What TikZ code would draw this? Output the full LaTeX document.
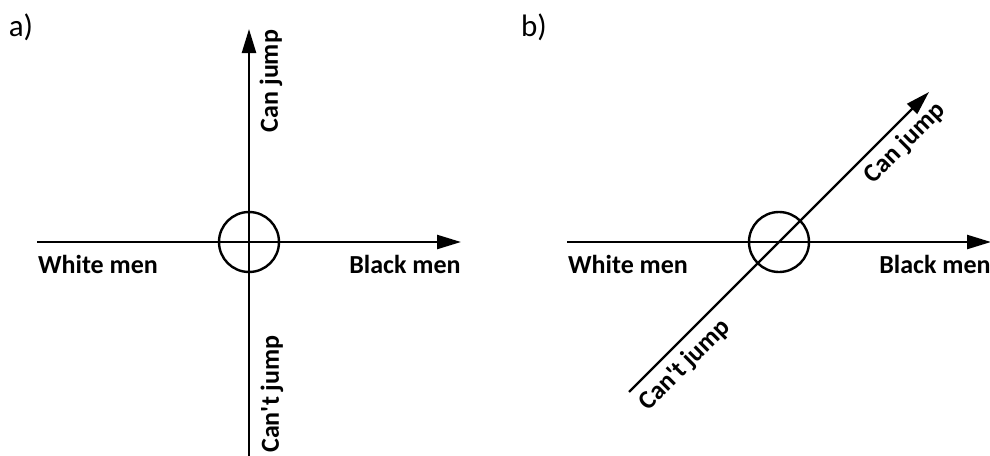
\documentclass[tikz,border=0pt]{standalone}
\usepackage{fontspec}
\setmainfont{Carlito}
\usetikzlibrary{arrows.meta}
\begin{document}
\begin{tikzpicture}[x=1pt,y=-1pt,
  axis/.style={line width=2.4pt},
  arrowaxis/.style={axis,-{Triangle[length=24pt,width=14pt]}},
  ring/.style={circle,draw,line width=2.4pt,minimum size=60pt,inner sep=0pt},
  lbl/.style={font=\fontsize{26}{30}\selectfont\bfseries,inner sep=0pt},
  tag/.style={font=\fontsize{31}{36}\selectfont,inner sep=0pt}]
\useasboundingbox (0,0) rectangle (990,455);

% panel a
\node[tag] (ta) at (21,27) {a)};
\node[ring] (ca) at (249,242) {};
\coordinate (aL) at (37,242);
\coordinate (aR) at (461,242);
\coordinate (aB) at (249,456);
\coordinate (aT) at (249,29);
\draw[arrowaxis] (aL) -- (aR);
\draw[arrowaxis] (aB) -- (aT);
\node[lbl] (awm) at (98,264) {White men};
\node[lbl] (abm) at (405,264) {Black men};
\node[lbl,rotate=90] (acj) at (271,81) {Can jump};
\node[lbl,rotate=90] (acn) at (272,394) {Can\textquotesingle t jump};

% panel b
\node[tag] (tb) at (534,27) {b)};
\node[ring] (cb) at (779,242) {};
\coordinate (bL) at (567,242);
\coordinate (bR) at (991,242);
\coordinate (bB) at (629,392);
\coordinate (bT) at (929,92);
\draw[arrowaxis] (bL) -- (bR);
\draw[arrowaxis] (bB) -- (bT);
\node[lbl] (bwm) at (628,264) {White men};
\node[lbl] (bbm) at (935,264) {Black men};
\node[lbl,rotate=45] (bcj) at (905,143) {Can jump};
\node[lbl,rotate=45] (bcn) at (685,365) {Can\textquotesingle t jump};
\end{tikzpicture}
\end{document}
